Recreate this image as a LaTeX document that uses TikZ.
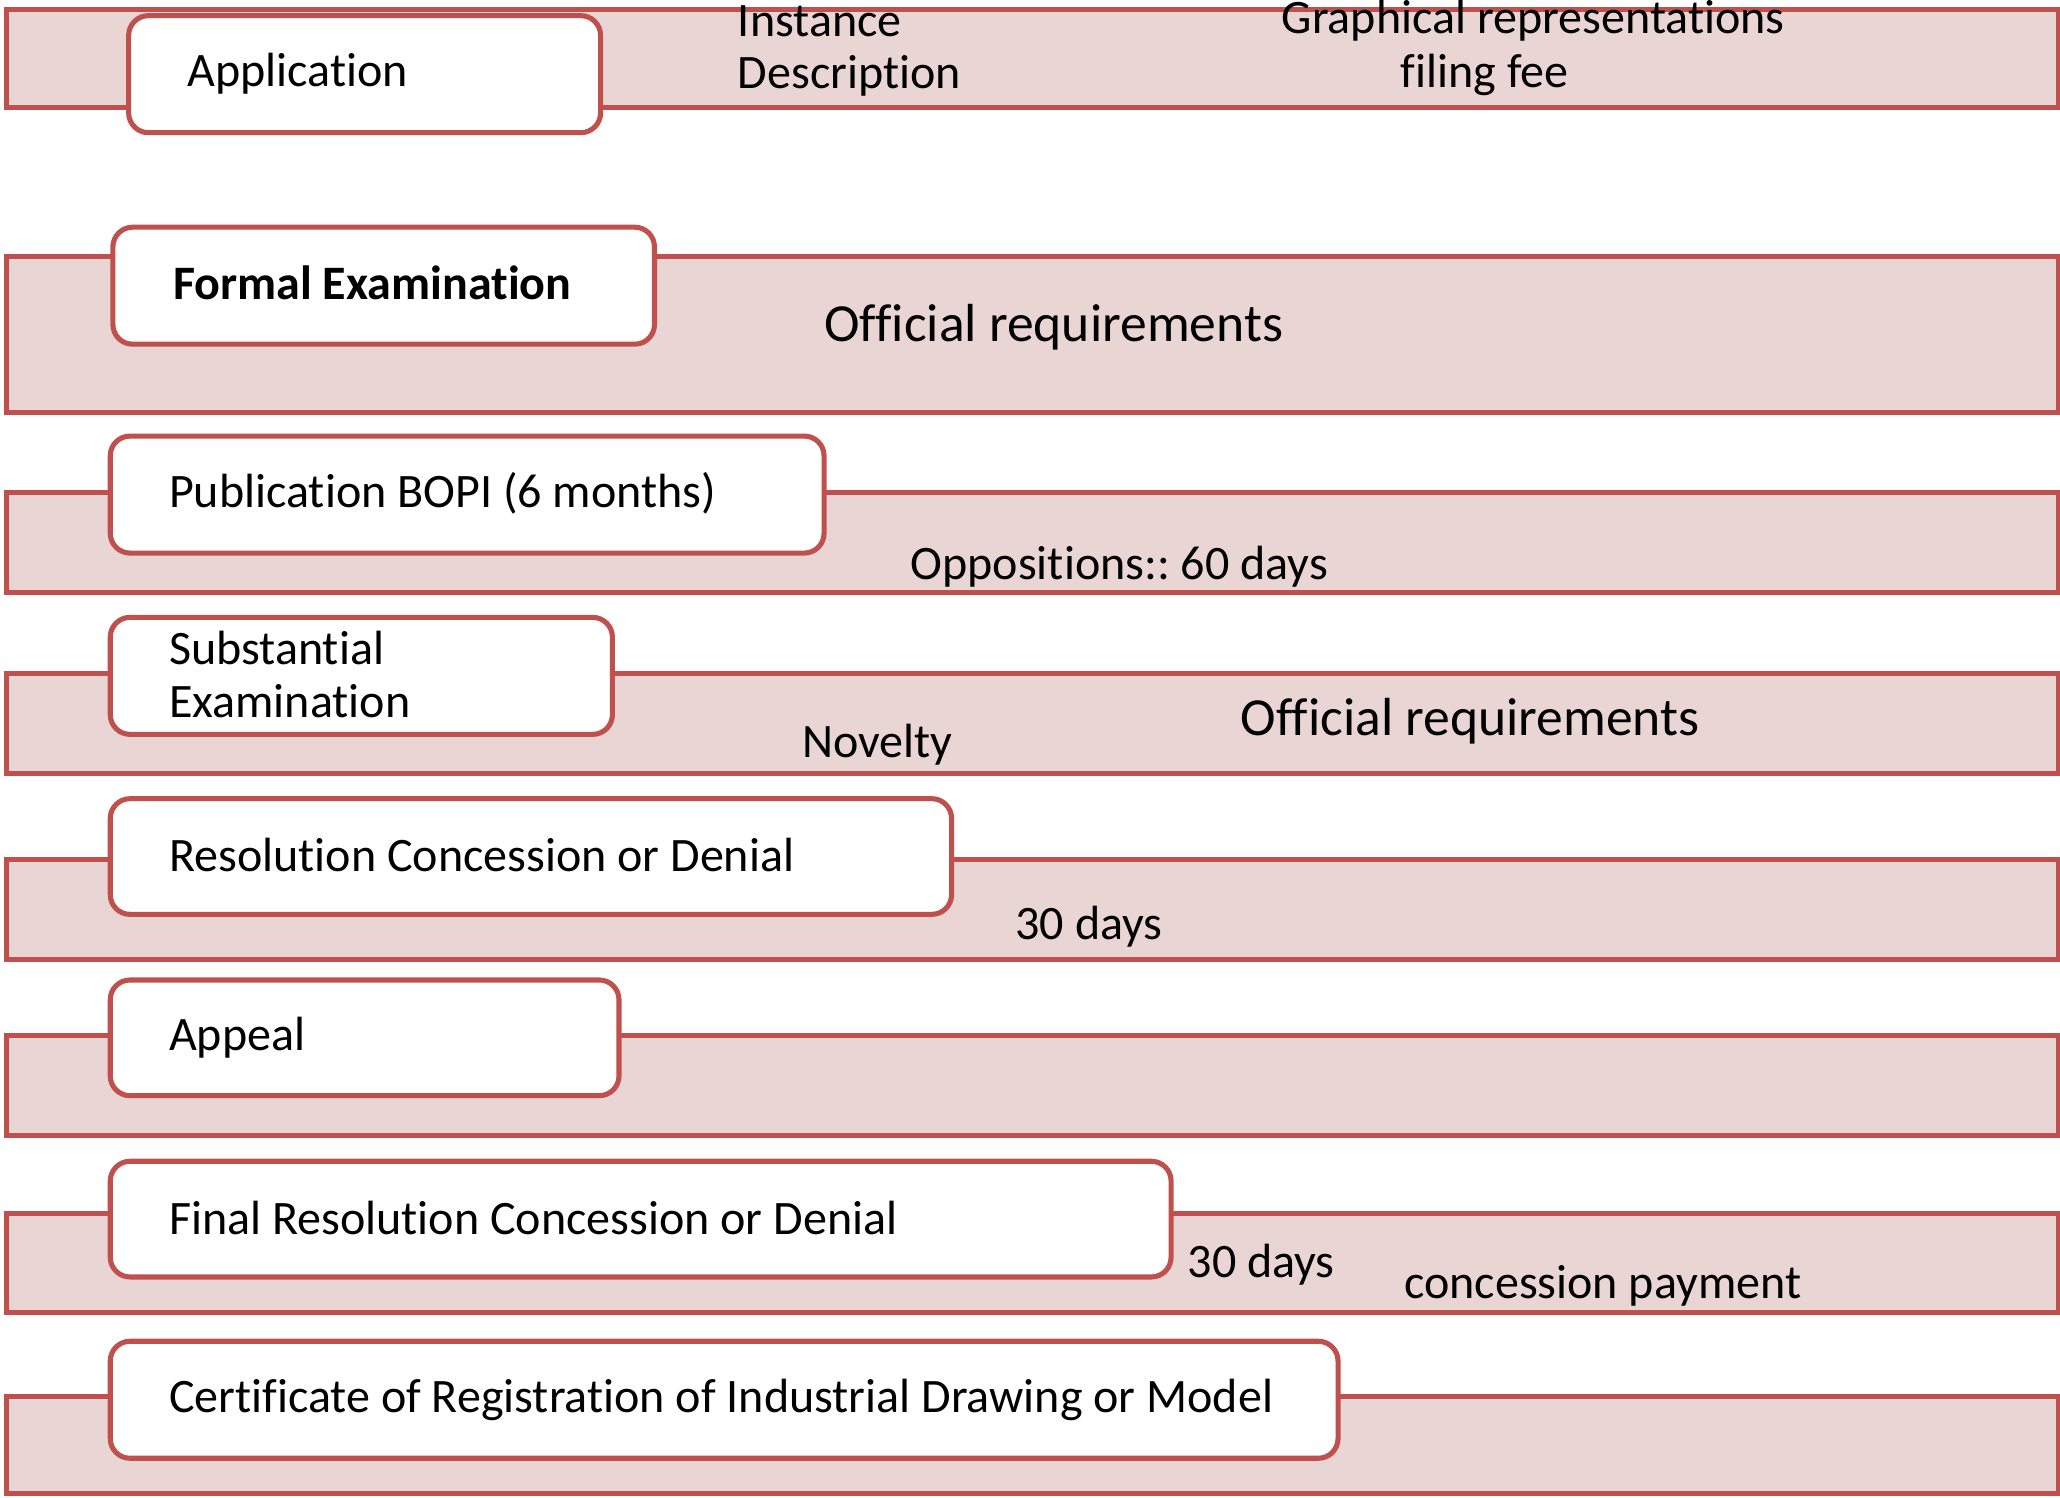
\documentclass[tikz,border=0pt]{standalone}
\usepackage{fontspec}
\setmainfont{Carlito}[Ligatures={NoCommon}]
\frenchspacing
\definecolor{accent}{HTML}{C0504D}
\definecolor{barfill}{HTML}{EAD5D5}
\tikzset{
  bar/.style={draw=accent, fill=barfill, line width=1.1pt},
  stagebox/.style={draw=accent, fill=white, line width=1.1pt, rounded corners=0.15cm,
    anchor=north west, inner sep=0pt, minimum height=0.89cm},
  stagetext/.style={anchor=west, inner sep=0pt, align=left,
    font=\fontsize{10.4}{11.5}\selectfont},
  lbl/.style={inner sep=0pt, font=\fontsize{10.4}{11.5}\selectfont},
  biglbl/.style={inner sep=0pt, font=\fontsize{11.6}{13}\selectfont}
}
\begin{document}
\begin{tikzpicture}[x=0.01cm,y=-0.01cm]
\useasboundingbox (0,0) rectangle (1568,1140);
\clip (0,0) rectangle (1568,1140);
% bars
\draw[bar] (5,7) rectangle (1567,82);
\draw[bar] (5,195) rectangle (1567,314);
\draw[bar] (5,375) rectangle (1567,451);
\draw[bar] (5,513) rectangle (1567,589);
\draw[bar] (5,654) rectangle (1567,730);
\draw[bar] (5,788) rectangle (1567,864);
\draw[bar] (5,924) rectangle (1567,999);
\draw[bar] (5,1063) rectangle (1567,1137);
% boxes
\node[stagebox, minimum width=3.59cm] (b1) at (96,10) {};
\node[stagetext] (t1) at ([xshift=0.46cm]b1.west) {Application};
\node[stagebox, minimum width=4.12cm] (b2) at (84,171) {};
\node[stagetext, font=\fontsize{10.4}{11.5}\selectfont\bfseries] (t2) at ([xshift=0.47cm,yshift=0.02cm]b2.west) {Formal Examination};
\node[stagebox, minimum width=5.43cm] (b3) at (82,330) {};
\node[stagetext] (t3) at ([xshift=0.46cm,yshift=0.01cm]b3.west) {Publication BOPI (6 months)};
\node[stagebox, minimum width=3.82cm] (b4) at (82,468) {};
\node[stagetext] (t4) at ([xshift=0.46cm,yshift=0.01cm]b4.west) {Substantial\\Examination};
\node[stagebox, minimum width=6.40cm, minimum height=0.88cm] (b5) at (82,606) {};
\node[stagetext] (t5) at ([xshift=0.46cm,yshift=0.01cm]b5.west) {Resolution Concession or Denial};
\node[stagebox, minimum width=3.87cm, minimum height=0.88cm] (b6) at (82,744) {};
\node[stagetext] (t6) at ([xshift=0.46cm]b6.west) {Appeal};
\node[stagebox, minimum width=8.07cm, minimum height=0.88cm] (b7) at (82,882) {};
\node[stagetext] (t7) at ([xshift=0.46cm,yshift=0.01cm]b7.west) {Final Resolution Concession or Denial};
\node[stagebox, minimum width=9.34cm] (b8) at (82,1019) {};
\node[stagetext] (t8) at ([xshift=0.46cm]b8.west) {Certificate of Registration of Industrial Drawing or Model};
% labels
\node[lbl, anchor=west] (l1) at (561,16) {Instance};
\node[lbl, anchor=west] (l2) at (561,58) {Description};
\node[lbl] (l3) at (1167,16) {Graphical representations};
\node[lbl] (l4) at (1130,57) {filing fee};
\node[biglbl] (l5) at (802,249) {Official requirements};
\node[lbl] (l6) at (852,431) {Oppositions:: 60 days};
\node[lbl] (l7) at (668,567) {Novelty};
\node[biglbl] (l8) at (1119,549) {Official requirements};
\node[lbl] (l9) at (829,705) {30 days};
\node[lbl] (l10) at (960,963) {30 days};
\node[lbl] (l11) at (1220,979) {concession payment};
\end{tikzpicture}
\end{document}
